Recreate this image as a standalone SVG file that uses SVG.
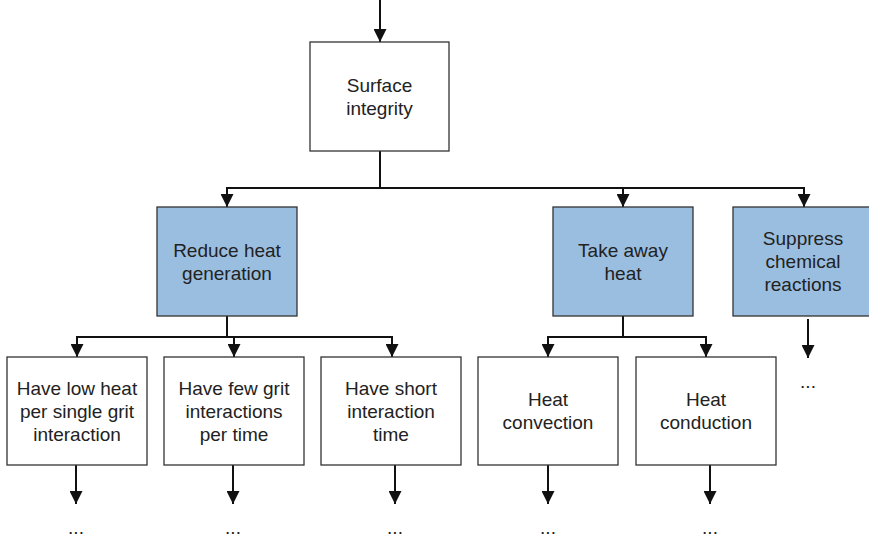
<svg xmlns="http://www.w3.org/2000/svg" width="869" height="539" viewBox="0 0 869 539">
  <style>
    .box { fill: #ffffff; stroke: #333333; stroke-width: 1.3; }
    .goal { fill: #9abee0; stroke: #333333; stroke-width: 1.3; }
    .lbl { font-family: "Liberation Sans", Arial, sans-serif; font-size: 19px; fill: #222222; text-anchor: middle; }
    .wire { fill: none; stroke: #111111; stroke-width: 2; }
    .arrow { fill: none; stroke: #111111; stroke-width: 2; marker-end: url(#head); }
  </style>
  <defs>
    <!-- solid triangular arrowhead, tip at the end of the line -->
    <marker id="head" markerUnits="userSpaceOnUse" markerWidth="13" markerHeight="13" refX="13" refY="6.5" orient="auto" viewBox="0 0 13 13">
      <path d="M0,0 L13,6.5 L0,13 Z" fill="#111111"/>
    </marker>
  </defs>
  <rect width="869" height="539" fill="#ffffff"/>

  <g id="connectors">
    <!-- incoming -->
    <path class="arrow" d="M380,0 V42"/>
    <!-- root fan-out -->
    <path class="wire" d="M380,151 V188 M226,188 H805"/>
    <path class="arrow" d="M227,188 V207"/>
    <path class="arrow" d="M623,188 V207"/>
    <path class="arrow" d="M804,188 V207"/>
    <!-- reduce heat generation fan-out -->
    <path class="wire" d="M227,316 V337 M76,337 H393"/>
    <path class="arrow" d="M77,337 V357"/>
    <path class="arrow" d="M234,337 V357"/>
    <path class="arrow" d="M392,337 V357"/>
    <!-- take away heat fan-out -->
    <path class="wire" d="M623,316 V337 M547,337 H707"/>
    <path class="arrow" d="M548,337 V357"/>
    <path class="arrow" d="M706,337 V357"/>
    <!-- suppress chemical reactions -->
    <path class="arrow" d="M808,319 V358"/>
    <!-- leaf outlets -->
    <path class="arrow" d="M76,465 V504"/>
    <path class="arrow" d="M233,465 V504"/>
    <path class="arrow" d="M395,465 V504"/>
    <path class="arrow" d="M548,465 V504"/>
    <path class="arrow" d="M710,465 V504"/>
  </g>

  <g id="surface-integrity">
    <rect class="box" x="310" y="42" width="139" height="109"/>
    <text class="lbl" x="379.5" y="91.5">Surface</text>
    <text class="lbl" x="379.5" y="114.5">integrity</text>
  </g>

  <g id="reduce-heat">
    <rect class="goal" x="157" y="207" width="140" height="109"/>
    <text class="lbl" x="227" y="256.5">Reduce heat</text>
    <text class="lbl" x="227" y="279.5">generation</text>
  </g>

  <g id="take-away-heat">
    <rect class="goal" x="553" y="207" width="140" height="109"/>
    <text class="lbl" x="623" y="256.5">Take away</text>
    <text class="lbl" x="623" y="279.5">heat</text>
  </g>

  <g id="suppress-reactions">
    <rect class="goal" x="733" y="207" width="145" height="109"/>
    <text class="lbl" x="803" y="245">Suppress</text>
    <text class="lbl" x="803" y="268">chemical</text>
    <text class="lbl" x="803" y="291">reactions</text>
    <text class="lbl" x="808" y="388">...</text>
  </g>

  <g id="low-heat-per-grit">
    <rect class="box" x="7" y="357" width="140" height="108"/>
    <text class="lbl" x="77" y="394.5">Have low heat</text>
    <text class="lbl" x="77" y="417.5">per single grit</text>
    <text class="lbl" x="77" y="440.5">interaction</text>
    <text class="lbl" x="76" y="534">...</text>
  </g>

  <g id="few-grit-interactions">
    <rect class="box" x="164" y="357" width="140" height="108"/>
    <text class="lbl" x="234" y="394.5">Have few grit</text>
    <text class="lbl" x="234" y="417.5">interactions</text>
    <text class="lbl" x="234" y="440.5">per time</text>
    <text class="lbl" x="233" y="534">...</text>
  </g>

  <g id="short-interaction-time">
    <rect class="box" x="321" y="357" width="140" height="108"/>
    <text class="lbl" x="391" y="394.5">Have short</text>
    <text class="lbl" x="391" y="417.5">interaction</text>
    <text class="lbl" x="391" y="440.5">time</text>
    <text class="lbl" x="395" y="534">...</text>
  </g>

  <g id="heat-convection">
    <rect class="box" x="478" y="357" width="140" height="108"/>
    <text class="lbl" x="548" y="405.5">Heat</text>
    <text class="lbl" x="548" y="428.5">convection</text>
    <text class="lbl" x="548" y="534">...</text>
  </g>

  <g id="heat-conduction">
    <rect class="box" x="636" y="357" width="140" height="108"/>
    <text class="lbl" x="706" y="405.5">Heat</text>
    <text class="lbl" x="706" y="428.5">conduction</text>
    <text class="lbl" x="710" y="534">...</text>
  </g>
</svg>
